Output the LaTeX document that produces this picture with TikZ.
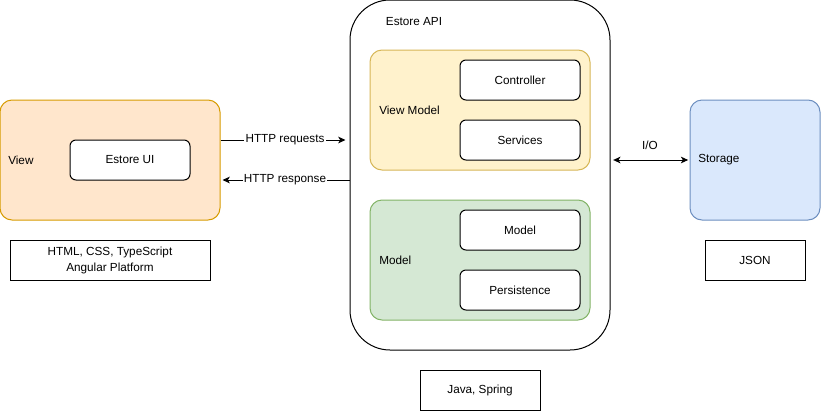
\documentclass[tikz,border=0pt]{standalone}
\usepackage{tikz}
\usetikzlibrary{arrows.meta,positioning}
\usepackage{fontspec}
\setmainfont{Liberation Sans}
\usepackage{xcolor}

\definecolor{viewfill}{HTML}{FFE6CC}
\definecolor{viewline}{HTML}{D79B00}
\definecolor{vmfill}{HTML}{FFF2CC}
\definecolor{vmline}{HTML}{D6B656}
\definecolor{modelfill}{HTML}{D5E8D4}
\definecolor{modelline}{HTML}{82B366}
\definecolor{storefill}{HTML}{DAE8FC}
\definecolor{storeline}{HTML}{6C8EBF}

\tikzset{
  layer/.style={draw,rounded corners=9pt,line width=0.75pt,minimum width=165pt,minimum height=90pt},
  part/.style={draw,fill=white,rounded corners=4.5pt,line width=0.75pt,minimum width=90pt,minimum height=30pt},
  tech/.style={draw,line width=0.75pt,minimum height=30pt,align=center},
  lbl/.style={inner sep=0pt}
}

\begin{document}
\begin{tikzpicture}[x=0.75pt,y=-0.75pt,>={Stealth[length=5.5pt,width=5pt,inset=1.5pt]},on grid,
    font=\fontsize{8.8pt}{12pt}\selectfont]
  \useasboundingbox (0,0) rectangle (821,411);

  % client side
  \node[layer,fill=viewfill,draw=viewline] (view) at (110,160) {};
  \node[part]                              (ui)   [right=15pt of view]   {Estore UI};
  \node[tech,minimum width=150pt]          (html) [below=75pt of view]   {HTML, CSS, TypeScript\\Angular Platform};
  \node[lbl,anchor=west] (viewlbl) at (8,160) {View};

  % server side
  \node[draw,line width=0.75pt,rounded corners=30pt,minimum width=195pt,minimum height=262.5pt] (api) at (480,175) {};
  \node[lbl] (apilbl) at (414,22) {Estore API};
  \node[layer,fill=vmfill,draw=vmline]       (vm)    [above=48.75pt of api]           {};
  \node[part]                                (ctrl)  [above right=22.5pt and 30pt of vm] {Controller};
  \node[part]                                (svc)   [below=45pt of ctrl]             {Services};
  \node[layer,fill=modelfill,draw=modelline] (model) [below=112.5pt of vm]            {};
  \node[part]                                (mdl)   [above right=22.5pt and 30pt of model] {Model};
  \node[part]                                (pers)  [below=45pt of mdl]              {Persistence};
  \node[lbl,anchor=west] (vmlbl)    at (379,110) {View Model};
  \node[lbl,anchor=west] (modellbl) at (379,260) {Model};
  \node[tech,minimum width=90pt]             (java)  [below=161.25pt of api]          {Java, Spring};

  % storage
  \node[layer,fill=storefill,draw=storeline,minimum width=97.5pt] (store) at (755,160) {};
  \node[lbl,anchor=west] (storelbl) at (698,160) {Storage};
  \node[tech,minimum width=75pt]             (json)  [below=75pt of store]            {JSON};

  % connectors
  \tikzset{link/.style={line width=0.75pt}}
  \path ([yshift=15pt]view.east)        edge [link,->,shorten >=3pt] node [fill=white,inner sep=1pt] {HTTP requests} ([yshift=15pt]view.east -| api.west)
        ([yshift=-15pt]view.east -| api.west) edge [link,->,shorten >=1.5pt] node [fill=white,inner sep=1pt] {HTTP response} ([yshift=-15pt]view.east)
        (store.west -| api.east)        edge [link,<->,shorten <=2pt,shorten >=1pt] node [above=11pt,anchor=center] {I/O} (store.west);
\end{tikzpicture}
\end{document}
